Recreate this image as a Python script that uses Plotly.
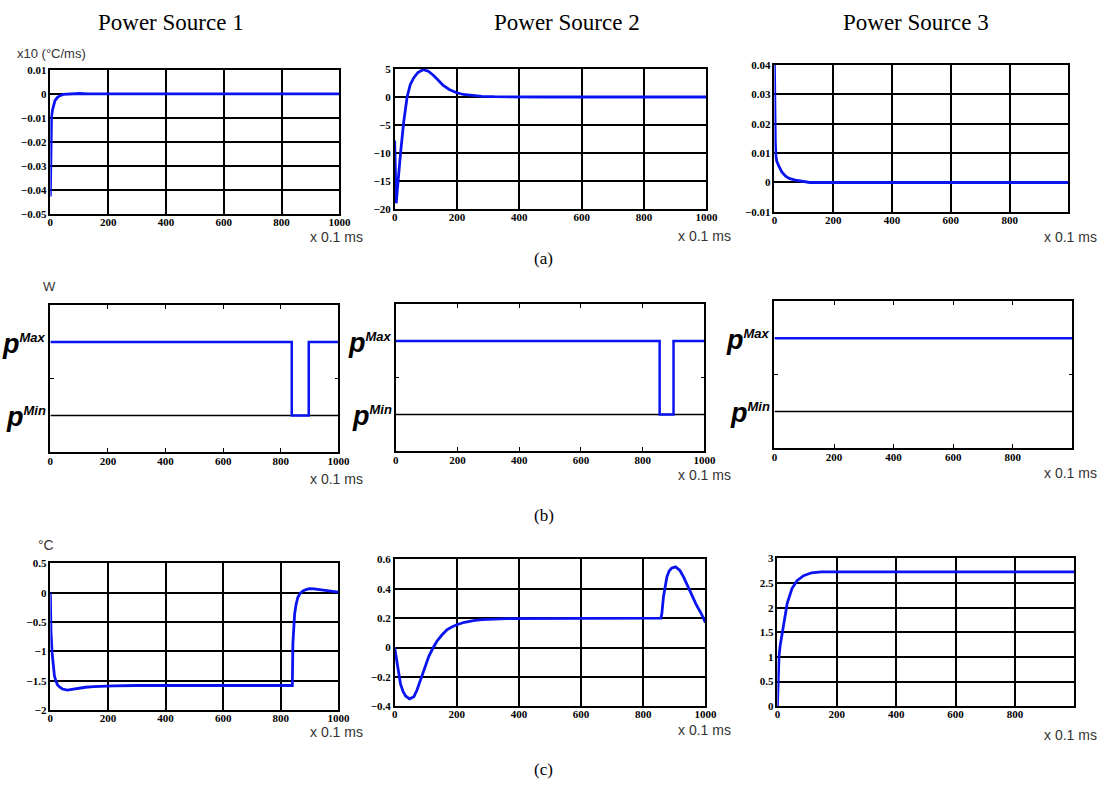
import plotly.graph_objects as go

W, H = 1112, 791

# ---------------- data ----------------
# Row (a): derivative of temperature, x10 (°C/ms)
t_a1 = [0, 1, 2, 4, 7, 11, 16, 24, 33, 45, 62, 80, 100, 130, 1000]
v_a1 = [-0.0428, -0.025, -0.0138, -0.0095, -0.0069, -0.0045, -0.0028, -0.0015,
        -0.0007, -0.0002, 0.0, 0.0002, 0.0002, 0.0, 0.0]

t_a2 = [0, 2, 5, 8, 12, 19, 29, 40, 50, 61, 75, 92, 108, 124, 140, 155, 175,
        197, 220, 249, 280, 320, 400, 500, 1000]
v_a2 = [-7.8, -14, -19, -17, -14, -10, -4.5, 0, 2.2, 3.4, 4.4, 4.9, 4.6, 3.9,
        3.0, 2.1, 1.35, 0.8, 0.45, 0.23, 0.12, 0.05, 0.0, 0.0, 0.0]

t_a3 = [0, 1, 3, 5, 8, 15, 25, 37, 50, 71, 90, 120, 1000]
v_a3 = [0.04, 0.025, 0.0139, 0.0089, 0.0072, 0.0056, 0.0036, 0.0022, 0.0014,
        0.0008, 0.0004, 0.0, 0.0]

# Row (b): power (W), levels: P_MIN = 1, P_MAX = 3
P_MIN, P_MAX = 1, 3
t_b1 = [0, 838, 897, 1000]
v_b1 = [P_MAX, P_MIN, P_MAX, P_MAX]
t_b2 = [0, 855, 900, 1000]
v_b2 = [P_MAX, P_MIN, P_MAX, P_MAX]
t_b3 = [0, 1000]
v_b3 = [P_MAX, P_MAX]

# Row (c): temperature (°C)
t_c1 = [0, 2, 6, 10, 14, 19, 25, 33, 42, 59, 77, 100, 122, 150, 179, 220, 300,
        840, 842, 845, 848, 853, 859, 867, 877, 888, 899, 915, 934, 950, 968,
        985, 1000]
v_c1 = [0, -0.64, -1.02, -1.25, -1.41, -1.5, -1.57, -1.61, -1.64, -1.66, -1.645,
        -1.625, -1.61, -1.6, -1.59, -1.585, -1.58, -1.58, -0.86, -0.55, -0.36,
        -0.2, -0.08, -0.01, 0.03, 0.055, 0.07, 0.065, 0.05, 0.04, 0.03, 0.02, 0.01]

t_c2 = [0, 4, 8.5, 14, 19, 27, 35, 48, 62, 72, 83, 96, 110, 123, 136, 152, 168,
        184, 200, 225, 253, 280, 306, 360, 857, 860, 865, 870, 876, 883, 891,
        904, 918, 930, 945, 958, 971, 987, 1000]
v_c2 = [0, -0.06, -0.125, -0.19, -0.25, -0.3, -0.33, -0.35, -0.335, -0.29, -0.22,
        -0.14, -0.06, -0.005, 0.043, 0.085, 0.12, 0.14, 0.155, 0.172, 0.184,
        0.19, 0.193, 0.197, 0.2, 0.233, 0.345, 0.42, 0.48, 0.52, 0.54, 0.55,
        0.525, 0.48, 0.415, 0.35, 0.29, 0.23, 0.17]

t_c3 = [0, 1, 2, 3.5, 5.5, 9, 14, 22, 33, 49, 66, 88, 115, 148, 200, 1000]
v_c3 = [0, 0.3, 0.55, 0.8, 1.02, 1.22, 1.42, 1.75, 2.09, 2.39, 2.55, 2.65, 2.71,
        2.73, 2.73, 2.73]

titles = ["Power Source 1", "Power Source 2", "Power Source 3"]
row_labels = ["(a)", "(b)", "(c)"]
x_ticks_full = [0, 200, 400, 600, 800, 1000]
x_ticks_short = [0, 200, 400, 600, 800]
y_ranges = {1: (-0.05, 0.01, 0.01), 2: (-20, 5, 5), 3: (-0.01, 0.04, 0.01),
            7: (-2, 0.5, 0.5), 8: (-0.4, 0.6, 0.2), 9: (0, 3, 0.5)}

# ---------------- layout geometry (pixels) ----------------
rects = {
    1: (48, 341, 65, 211), 2: (397, 713, 64, 206), 3: (782, 1080, 60, 209),
    4: (48, 340, 304, 453), 5: (398, 711, 303, 452), 6: (782, 1084, 300, 449),
    7: (48, 340, 566, 715), 8: (397, 712, 562, 711), 9: (785, 1086, 561, 711),
}

def fx(px):
    return px / W

def fy(py):
    return 1 - py / H

BLUE = "#0a14f0"
tickfont = dict(family="Liberation Serif", size=11, color="black", weight="bold")

fig = go.Figure()
series = {1: (t_a1, v_a1), 2: (t_a2, v_a2), 3: (t_a3, v_a3),
          4: (t_b1, v_b1), 5: (t_b2, v_b2), 6: (t_b3, v_b3),
          7: (t_c1, v_c1), 8: (t_c2, v_c2), 9: (t_c3, v_c3)}

layout = dict(width=W, height=H, margin=dict(l=0, r=0, t=0, b=0),
              paper_bgcolor="white", plot_bgcolor="white", showlegend=False)

for k in range(1, 10):
    xa = "x" if k == 1 else f"x{k}"
    ya = "y" if k == 1 else f"y{k}"
    x0, x1, y0, y1 = rects[k]
    col = (k - 1) % 3
    row = (k - 1) // 3
    tx = x_ticks_short if col == 2 else x_ticks_full
    t, v = series[k]
    if row == 1:
        fig.add_trace(go.Scatter(x=[0, 1000], y=[P_MIN, P_MIN], mode="lines",
                                 line=dict(color="black", width=1.5),
                                 xaxis=xa, yaxis=ya, hoverinfo="skip"))
        fig.add_trace(go.Scatter(x=t, y=v, mode="lines", line_shape="hv",
                                 line=dict(color=BLUE, width=2.5),
                                 xaxis=xa, yaxis=ya))
    else:
        fig.add_trace(go.Scatter(x=t, y=v, mode="lines",
                                 line=dict(color=BLUE, width=2.8),
                                 xaxis=xa, yaxis=ya))
    xkey = "xaxis" if k == 1 else f"xaxis{k}"
    ykey = "yaxis" if k == 1 else f"yaxis{k}"
    common = dict(showline=True, linecolor="black", linewidth=1.5,
                  zeroline=False, tickfont=tickfont)
    if row == 1:
        layout[xkey] = dict(domain=[fx(x0), fx(x1)], anchor=ya, range=[0, 1000],
                            tickvals=tx, showgrid=False, ticks="inside",
                            ticklen=4, tickcolor="black", mirror="ticks",
                            ticklabelstandoff=-2, **common)
        layout[ykey] = dict(domain=[fy(y1), fy(y0)], anchor=xa, range=[0, 4],
                            tickvals=[2], showticklabels=False, showgrid=False,
                            ticks="inside", ticklen=4, tickcolor="black",
                            mirror="ticks", **common)
    else:
        lo, hi, dt = y_ranges[k]
        layout[xkey] = dict(domain=[fx(x0), fx(x1)], anchor=ya, range=[0, 1000],
                            tickvals=tx, showgrid=True, gridcolor="black",
                            gridwidth=1.7, ticks="", mirror=True,
                            ticklabelstandoff=-3, **common)
        layout[ykey] = dict(domain=[fy(y1), fy(y0)], anchor=xa, range=[lo, hi],
                            dtick=dt, tick0=lo, showgrid=True, gridcolor="black",
                            gridwidth=1.7, ticks="", mirror=True, **common)

anns = []
# column titles
for cx, txt in zip([170, 572, 925], titles):
    anns.append(dict(x=fx(cx), y=fy(17), text=txt, showarrow=False,
                     xanchor="center", yanchor="middle",
                     font=dict(family="Liberation Serif", size=23, color="black")))
# row labels
for cy, txt in zip([256, 517, 775], row_labels):
    anns.append(dict(x=fx(548), y=fy(cy), text=txt, showarrow=False,
                     xanchor="center", yanchor="middle",
                     font=dict(family="Liberation Serif", size=17, color="black")))
# x unit labels
unit_pos = [(338, 235), (711, 234), (1082, 235),
            (338, 480), (711, 476), (1082, 474),
            (338, 737), (711, 735), (1082, 740)]
for ux, uy in unit_pos:
    anns.append(dict(x=fx(ux), y=fy(uy), text="x 0.1 ms", showarrow=False,
                     xanchor="center", yanchor="middle",
                     font=dict(family="Liberation Sans", size=14, color="#333333")))
# y unit labels
anns.append(dict(x=fx(12), y=fy(48), text="x10 (°C/ms)", showarrow=False,
                 xanchor="left", yanchor="middle",
                 font=dict(family="Liberation Sans", size=13, color="#333333")))
anns.append(dict(x=fx(47), y=fy(285), text="W", showarrow=False,
                 xanchor="center", yanchor="middle",
                 font=dict(family="Liberation Sans", size=13, color="#333333")))
anns.append(dict(x=fx(44), y=fy(547), text="°C", showarrow=False,
                 xanchor="center", yanchor="middle",
                 font=dict(family="Liberation Sans", size=14, color="#333333")))
# p^Max / p^Min labels
for k in (4, 5, 6):
    ya = f"y{k}"
    x0 = rects[k][0]
    for val, sup in ((P_MAX, "Max"), (P_MIN, "Min")):
        anns.append(dict(x=fx(x0 - 2), xref="paper", y=val, yref=ya,
                         text=("<b><i>p</i></b><sup><span style='font-size:13px'>"
                               f"<b><i>{sup}</i></b></span></sup>"),
                         showarrow=False, xanchor="right", yanchor="middle",
                         yshift=-2,
                         font=dict(family="Liberation Sans", size=27, color="black")))
for a in anns:
    a.setdefault("xref", "paper")
    a.setdefault("yref", "paper")

layout["annotations"] = anns
fig.update_layout(**layout)
fig.write_html("out.html", config={"displayModeBar": False},
               post_script="document.body.style.margin='0';")
